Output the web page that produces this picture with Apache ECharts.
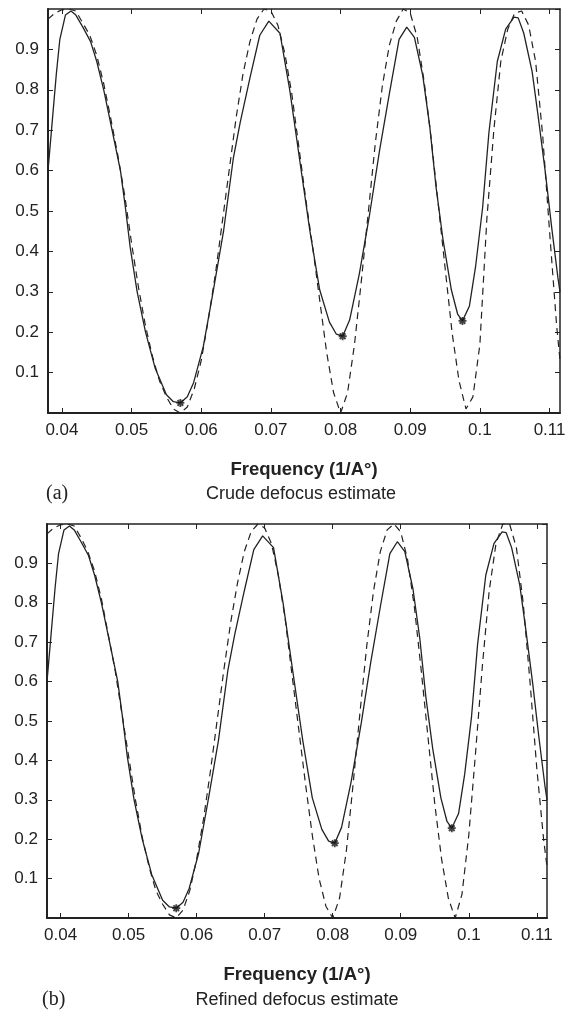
<!DOCTYPE html>
<html>
<head>
<meta charset="utf-8">
<script src="https://cdn.jsdelivr.net/npm/echarts@6/dist/echarts.min.js"></script>
<style>
  html, body { margin: 0; padding: 0; background: #fff; }
  #chart { width: 577px; height: 1011px; }
</style>
</head>
<body>
<div id="chart"></div>
<script>
// measured spectrum (solid), same in both panels
const measFreq = [0.0380, 0.0386, 0.0392, 0.0397, 0.0405, 0.0413, 0.0420, 0.0430, 0.0441, 0.0450,
  0.0460, 0.0472, 0.0484, 0.0491, 0.0498, 0.0508, 0.0520, 0.0534, 0.0550, 0.0560,
  0.0570, 0.0580, 0.0589, 0.0603, 0.0617, 0.0632, 0.0646, 0.0656, 0.0670, 0.0684,
  0.0697, 0.0713, 0.0727, 0.0741, 0.0756, 0.0770, 0.0784, 0.0794, 0.0803, 0.0813,
  0.0827, 0.0842, 0.0856, 0.0870, 0.0884, 0.0895, 0.0906, 0.0918, 0.0928, 0.0937,
  0.0947, 0.0959, 0.0968, 0.0975, 0.0985, 0.0994, 0.1004, 0.1013, 0.1025, 0.1037,
  0.1049, 0.1055, 0.1063, 0.1075, 0.1084, 0.1094, 0.1103, 0.1112, 0.1115]
const measVal = [0.60, 0.72, 0.84, 0.925, 0.985, 0.995, 0.985, 0.955, 0.92, 0.87,
  0.80, 0.70, 0.60, 0.51, 0.41, 0.30, 0.20, 0.11, 0.045, 0.028,
  0.025, 0.04, 0.075, 0.165, 0.30, 0.45, 0.63, 0.72, 0.83, 0.935,
  0.97, 0.94, 0.80, 0.63, 0.45, 0.305, 0.225, 0.195, 0.19, 0.23,
  0.345, 0.495, 0.65, 0.79, 0.925, 0.955, 0.93, 0.835, 0.71, 0.56,
  0.43, 0.305, 0.245, 0.228, 0.265, 0.365, 0.51, 0.695, 0.87, 0.95,
  0.98, 0.978, 0.94, 0.845, 0.73, 0.595, 0.46, 0.335, 0.30]

// detected minima (asterisks)
const minFreq = [0.0570, 0.0803, 0.0975]
const minVal = [0.025, 0.19, 0.228]

// model curves (dashed)
const fitFreq = [0.038, 0.039, 0.040, 0.041, 0.042, 0.043, 0.044, 0.045, 0.046, 0.047,
  0.048, 0.049, 0.050, 0.051, 0.052, 0.053, 0.054, 0.055, 0.056, 0.057,
  0.058, 0.059, 0.060, 0.061, 0.062, 0.063, 0.064, 0.065, 0.066, 0.067,
  0.068, 0.069, 0.070, 0.071, 0.072, 0.073, 0.074, 0.075, 0.076, 0.077,
  0.078, 0.079, 0.080, 0.081, 0.082, 0.083, 0.084, 0.085, 0.086, 0.087,
  0.088, 0.089, 0.090, 0.091, 0.092, 0.093, 0.094, 0.095, 0.096, 0.097,
  0.098, 0.099, 0.100, 0.101, 0.102, 0.103, 0.104, 0.105, 0.106, 0.107,
  0.108, 0.109, 0.110, 0.111, 0.1115]
const crudeVal = [0.975, 0.99, 0.998, 1.0, 0.995, 0.965, 0.935, 0.885, 0.815, 0.73,
  0.64, 0.54, 0.42, 0.31, 0.215, 0.14, 0.08, 0.04, 0.01, 0.0,
  0.015, 0.06, 0.13, 0.23, 0.34, 0.47, 0.60, 0.73, 0.84, 0.92,
  0.975, 1.0, 0.995, 0.96, 0.89, 0.79, 0.66, 0.53, 0.41, 0.28,
  0.15, 0.05, 0.0, 0.05, 0.17, 0.33, 0.50, 0.67, 0.81, 0.91,
  0.97, 1.0, 0.99, 0.93, 0.82, 0.68, 0.52, 0.36, 0.20, 0.08,
  0.01, 0.04, 0.17, 0.48, 0.70, 0.87, 0.95, 0.99, 0.995, 0.96,
  0.87, 0.69, 0.45, 0.22, 0.13]
const refinedVal = [0.975, 0.99, 0.998, 1.0, 0.995, 0.965, 0.93, 0.88, 0.81, 0.72,
  0.63, 0.52, 0.41, 0.30, 0.205, 0.13, 0.07, 0.035, 0.008, 0.0,
  0.02, 0.07, 0.15, 0.25, 0.37, 0.50, 0.63, 0.75, 0.85, 0.93,
  0.98, 1.0, 0.99, 0.95, 0.87, 0.76, 0.62, 0.48, 0.34, 0.21,
  0.10, 0.03, 0.0, 0.05, 0.17, 0.34, 0.52, 0.69, 0.83, 0.93,
  0.985, 1.0, 0.98, 0.91, 0.79, 0.63, 0.46, 0.29, 0.15, 0.05,
  0.0, 0.06, 0.21, 0.42, 0.64, 0.83, 0.95, 1.0, 1.0, 0.94,
  0.80, 0.60, 0.38, 0.20, 0.13]

const xTicks = [0.04, 0.05, 0.06, 0.07, 0.08, 0.09, 0.10, 0.11]

const zip = (xs, ys) => xs.map((x, i) => [x, ys[i]])

const ink = '#222'
const font = 'Liberation Sans, Arial, Helvetica, sans-serif'
const serif = '"Liberation Serif", "Times New Roman", serif'
// asterisk made of bars
const star = 'path://M-0.9,-4L0.9,-4L0.9,4L-0.9,4Z M-4,-0.9L4,-0.9L4,0.9L-4,0.9Z M-3.5,-2.2L-2.2,-3.5L3.5,2.2L2.2,3.5Z M2.2,-3.5L3.5,-2.2L-2.2,3.5L-3.5,2.2Z'

function xPair(grid) {
  const base = {
    type: 'value', gridIndex: grid, min: 0.038, max: 0.1115,
    splitLine: { show: false },
    axisTick: { inside: true, length: 5, customValues: xTicks, lineStyle: { color: ink, width: 1 } }
  }
  return [
    Object.assign({}, base, {
      position: 'bottom',
      axisLine: { onZero: false, lineStyle: { color: ink, width: 2 } },
      axisLabel: {
        customValues: xTicks, margin: 9, color: ink, fontSize: 17, fontFamily: font,
        formatter: v => String(parseFloat(v.toFixed(3)))
      },
      name: 'Frequency (1/A°)', nameLocation: 'middle', nameGap: 47,
      nameTextStyle: { color: ink, fontSize: 18.5, fontWeight: 'bold', fontFamily: font }
    }),
    Object.assign({}, base, {
      position: 'top',
      axisLine: { onZero: false, lineStyle: { color: ink, width: 1.5 } },
      axisLabel: { show: false }
    })
  ]
}

function yPair(grid) {
  const base = {
    type: 'value', gridIndex: grid, min: 0, max: 1, interval: 0.1,
    splitLine: { show: false },
    axisTick: { inside: true, length: 5, lineStyle: { color: ink, width: 1 } }
  }
  return [
    Object.assign({}, base, {
      position: 'left',
      axisLine: { show: true, onZero: false, lineStyle: { color: ink, width: 2 } },
      axisLabel: {
        margin: 9, color: ink, fontSize: 17, fontFamily: font,
        showMinLabel: false, showMaxLabel: false,
        formatter: v => String(parseFloat(v.toFixed(2)))
      }
    }),
    Object.assign({}, base, {
      position: 'right',
      axisLine: { show: true, onZero: false, lineStyle: { color: ink, width: 1.5 } },
      axisLabel: { show: false }
    })
  ]
}

function panel(grid, fitVal) {
  return [
    {
      type: 'line', xAxisIndex: grid * 2, yAxisIndex: grid * 2,
      data: zip(fitFreq, fitVal), showSymbol: false, smooth: false,
      lineStyle: { color: ink, width: 1.2, type: [7, 5] }, z: 2
    },
    {
      type: 'line', xAxisIndex: grid * 2, yAxisIndex: grid * 2,
      data: zip(measFreq, measVal), showSymbol: false,
      lineStyle: { color: ink, width: 1.3 }, z: 3
    },
    {
      type: 'scatter', xAxisIndex: grid * 2, yAxisIndex: grid * 2,
      data: zip(minFreq, minVal), symbol: star, symbolSize: 8,
      itemStyle: { color: '#111' }, z: 4
    }
  ]
}

const chart = echarts.init(document.getElementById('chart'), null, { renderer: 'canvas' })
chart.setOption({
  animation: false,
  backgroundColor: '#fff',
  grid: [
    { left: 48, top: 9, width: 512, height: 404, outerBoundsMode: 'none' },
    { left: 47, top: 524, width: 500, height: 394, outerBoundsMode: 'none' }
  ],
  xAxis: [...xPair(0), ...xPair(1)],
  yAxis: [...yPair(0), ...yPair(1)],
  series: [...panel(0, crudeVal), ...panel(1, refinedVal)],
  graphic: [
    { type: 'text', x: 46, y: 494, style: { text: '(a)', fill: ink, font: '20px ' + serif, verticalAlign: 'middle' } },
    { type: 'text', x: 301, y: 494, style: { text: 'Crude defocus estimate', fill: ink, font: '18px ' + font, align: 'center', verticalAlign: 'middle' } },
    { type: 'text', x: 42, y: 1000, style: { text: '(b)', fill: ink, font: '20px ' + serif, verticalAlign: 'middle' } },
    { type: 'text', x: 297, y: 1000, style: { text: 'Refined defocus estimate', fill: ink, font: '18px ' + font, align: 'center', verticalAlign: 'middle' } }
  ]
})
</script>
</body>
</html>
